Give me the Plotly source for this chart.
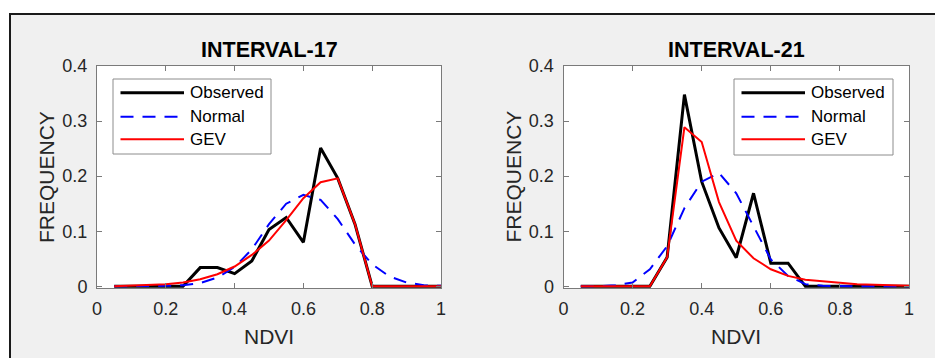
import plotly.graph_objects as go

# ---------------- data ----------------
ndvi = [0.05, 0.10, 0.15, 0.20, 0.25, 0.30, 0.35, 0.40, 0.45, 0.50,
        0.55, 0.60, 0.65, 0.70, 0.75, 0.80, 0.85, 0.90, 0.95, 1.00]

obs17 = [0, 0, 0, 0, 0, 0.034, 0.034, 0.023, 0.046, 0.103,
         0.125, 0.080, 0.251, 0.196, 0.113, 0, 0, 0, 0, 0]
norm17 = [0, 0, 0, 0.001, 0.002, 0.006, 0.016, 0.035, 0.067, 0.113,
          0.150, 0.166, 0.157, 0.122, 0.076, 0.040, 0.018, 0.007, 0.002, 0.001]
gev17 = [0.000, 0.001, 0.002, 0.004, 0.007, 0.013, 0.022, 0.036, 0.057, 0.083,
         0.120, 0.160, 0.189, 0.196, 0.113, 0, 0, 0, 0, 0]

obs21 = [0, 0, 0, 0, 0, 0.053, 0.348, 0.190, 0.106, 0.052,
         0.169, 0.042, 0.042, 0, 0, 0, 0, 0, 0, 0]
norm21 = [0, 0, 0.002, 0.007, 0.031, 0.073, 0.142, 0.190, 0.206, 0.169,
          0.109, 0.049, 0.019, 0.004, 0.001, 0, 0, 0, 0, 0]
gev21 = [0, 0, 0, 0, 0, 0.053, 0.289, 0.262, 0.153, 0.083,
         0.051, 0.031, 0.019, 0.012, 0.009, 0.006, 0.004, 0.003, 0.002, 0.001]

titles = ["INTERVAL-17", "INTERVAL-21"]
series_names = ["Observed", "Normal", "GEV"]
x_ticks = [0, 0.2, 0.4, 0.6, 0.8, 1]
x_ticktext = ["0", "0.2", "0.4", "0.6", "0.8", "1"]
y_ticks = [0, 0.1, 0.2, 0.3, 0.4]
y_ticktext = ["0", "0.1", "0.2", "0.3", "0.4"]

# ---------------- layout helpers ----------------
W, H = 935, 358
FONT = "Arial, Liberation Sans, Helvetica, sans-serif"
AX = "#262626"


def px(x):
    return x / W


def py(y):
    return 1 - y / H


styles = [
    dict(color="#000000", width=3, dash="solid"),
    dict(color="#0000ff", width=2, dash="13px,9px"),
    dict(color="#ff0000", width=2, dash="solid"),
]

fig = go.Figure()

panels = [
    dict(data=[obs17, norm17, gev17], xa="x", ya="y",
         dom=(97, 441), legend=(113, 271, 79, 154)),
    dict(data=[obs21, norm21, gev21], xa="x2", ya="y2",
         dom=(563.5, 909), legend=(734, 893, 79, 155)),
]

top, bottom = 66, 288

shapes = []
annotations = []

# figure background: white strips outside the black border
shapes.append(dict(type="rect", xref="paper", yref="paper", x0=0, x1=1,
                   y0=py(13), y1=1.0, fillcolor="white", line_width=0, layer="below"))
shapes.append(dict(type="rect", xref="paper", yref="paper", x0=0, x1=px(9),
                   y0=0, y1=1.0, fillcolor="white", line_width=0, layer="below"))
shapes.append(dict(type="line", xref="paper", yref="paper", x0=px(9), x1=1.0,
                   y0=py(14), y1=py(14), line=dict(color="#1a1a1a", width=2), layer="below"))
shapes.append(dict(type="line", xref="paper", yref="paper", x0=px(10), x1=px(10),
                   y0=0, y1=py(14), line=dict(color="#1a1a1a", width=2), layer="below"))

for i, p in enumerate(panels):
    for name, vals, st in zip(series_names, p["data"], styles):
        fig.add_trace(go.Scatter(
            x=ndvi, y=vals, mode="lines", name=name, showlegend=False,
            line=st, xaxis=p["xa"], yaxis=p["ya"]))

    x0, x1 = p["dom"]
    sfx = "" if i == 0 else "2"
    fig.update_layout(**{
        "xaxis" + sfx: dict(
            domain=[px(x0), px(x1)], range=[0, 1],
            tickvals=x_ticks, ticktext=x_ticktext,
            ticks="inside", ticklen=5, tickcolor="#7a7a7a",
            showline=True, linecolor="#7a7a7a", linewidth=1, mirror="ticks",
            showgrid=False, zeroline=False, anchor="y" + sfx,
            tickfont=dict(family=FONT, size=18, color=AX),
            ticklabelstandoff=4,
        ),
        "yaxis" + sfx: dict(
            domain=[py(bottom), py(top)], range=[-0.003, 0.4],
            tickvals=y_ticks, ticktext=y_ticktext,
            ticks="inside", ticklen=5, tickcolor="#7a7a7a",
            showline=True, linecolor="#7a7a7a", linewidth=1, mirror="ticks",
            showgrid=False, zeroline=False, anchor="x" + sfx,
            tickfont=dict(family=FONT, size=18, color=AX),
            ticklabelstandoff=5,
        ),
    })

    cx = (x0 + x1) / 2
    # title
    annotations.append(dict(text="<b>%s</b>" % titles[i], xref="paper", yref="paper",
                            x=px(cx), y=py(49.5), showarrow=False,
                            xanchor="center", yanchor="middle",
                            font=dict(family=FONT, size=21.5, color="#000000")))
    # axis titles
    annotations.append(dict(text="NDVI", xref="paper", yref="paper",
                            x=px(cx), y=py(336), showarrow=False,
                            xanchor="center", yanchor="middle",
                            font=dict(family=FONT, size=21, color=AX)))
    annotations.append(dict(text="FREQUENCY", xref="paper", yref="paper",
                            x=px(x0 - 50), y=py((top + bottom) / 2), showarrow=False,
                            textangle=-90, xanchor="center", yanchor="middle",
                            font=dict(family=FONT, size=21, color=AX)))

    # legend box
    lx0, lx1, ly0, ly1 = p["legend"]
    shapes.append(dict(type="rect", xref="paper", yref="paper",
                       x0=px(lx0), x1=px(lx1), y0=py(ly1), y1=py(ly0),
                       fillcolor="white", line=dict(color="#8c8c8c", width=1),
                       layer="above"))
    rows = [ly0 + 13.7, ly0 + 37.7, ly0 + 60.3]
    for name, st, ry in zip(series_names, styles, rows):
        shapes.append(dict(type="line", xref="paper", yref="paper",
                           x0=px(lx0 + 7.5), x1=px(lx0 + 71), y0=py(ry), y1=py(ry),
                           line=st, layer="above"))
        annotations.append(dict(text=name, xref="paper", yref="paper",
                                x=px(lx0 + 75), y=py(ry), showarrow=False,
                                xanchor="left", yanchor="middle",
                                font=dict(family=FONT, size=17, color="#000000")))

fig.update_layout(
    width=W, height=H,
    margin=dict(l=0, r=0, t=0, b=0, autoexpand=False),
    paper_bgcolor="#f0f0f0", plot_bgcolor="white",
    shapes=shapes, annotations=annotations,
    showlegend=False,
)

fig.write_html("out.html", config={"displayModeBar": False},
               post_script="document.body.style.margin='0px';document.body.style.overflow='hidden';")
